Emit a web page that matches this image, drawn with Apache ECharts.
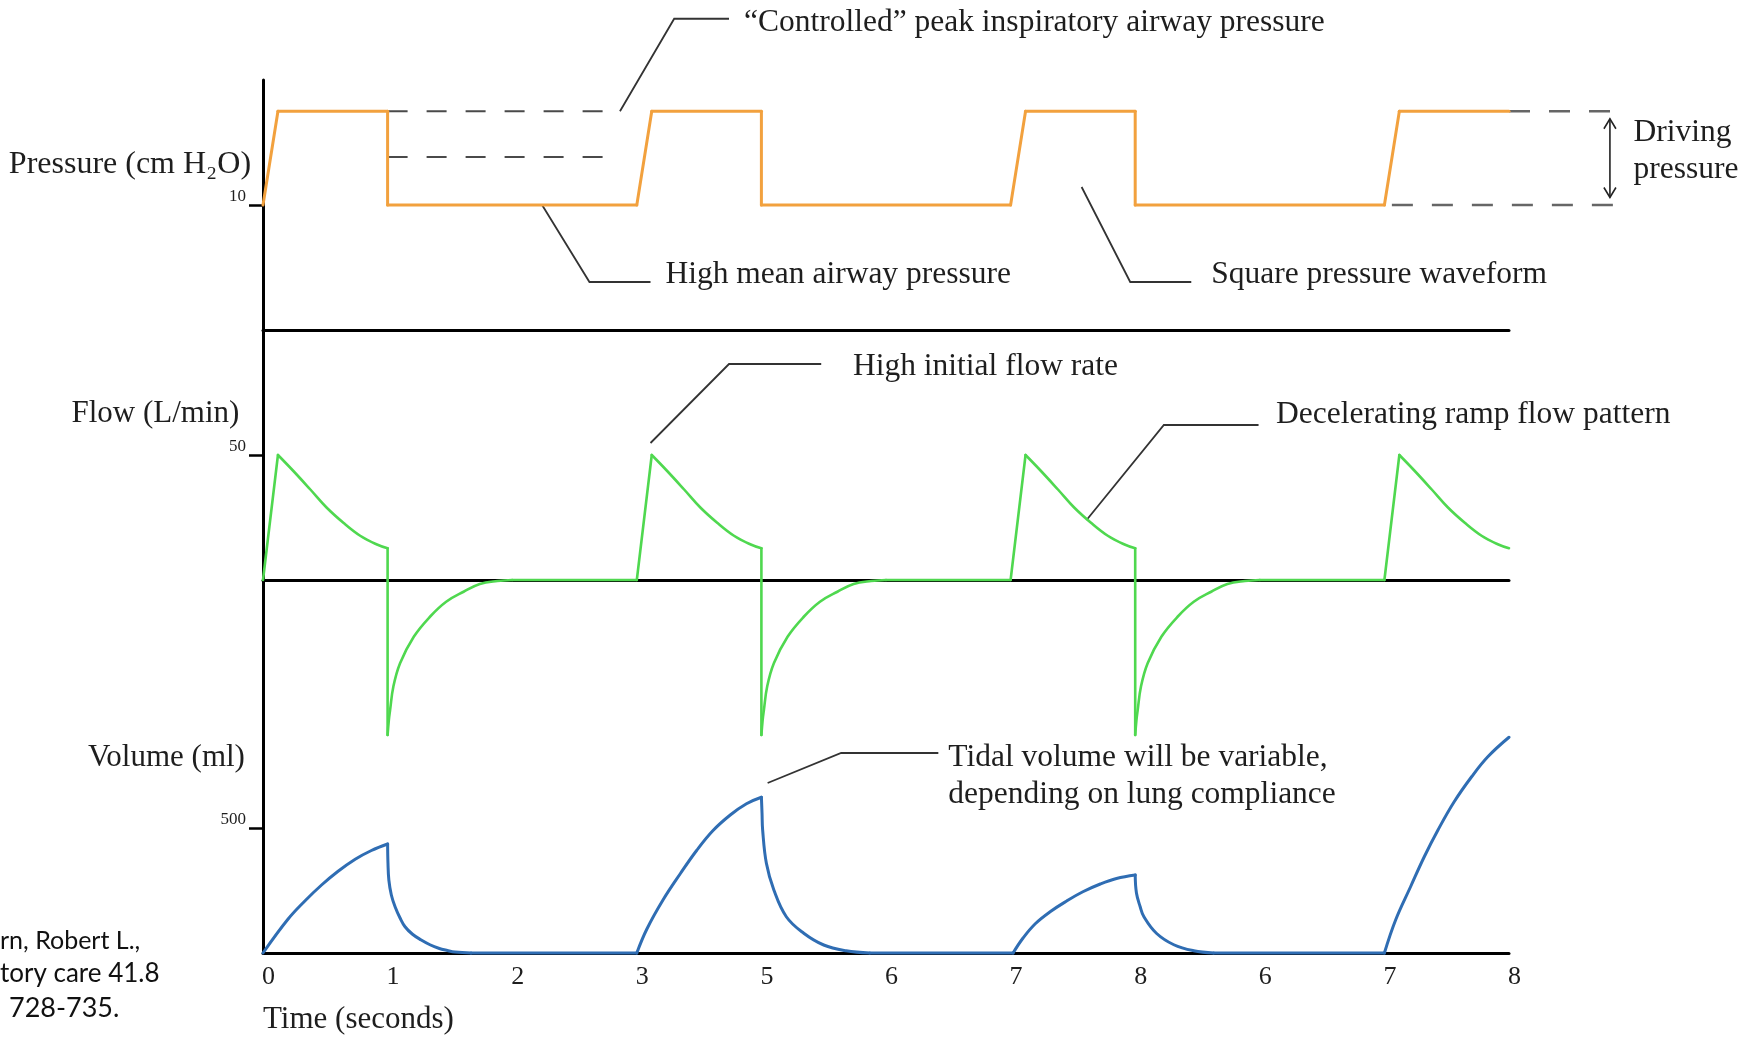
<!DOCTYPE html>
<html><head><meta charset="utf-8">
<script src="https://cdn.jsdelivr.net/npm/echarts@6/dist/echarts.min.js"></script>
<style>html,body{margin:0;padding:0;background:#fff}#c{width:1746px;height:1037px}</style>
</head><body><div id="c"></div>
<script>
// ---------- data ----------
const timeTickLabels = ['0', '1', '2', '3', '5', '6', '7', '8', '6', '7', '8'];
const pressureTicks = [10];
const flowTicks = [50];
const volumeTicks = [500];

const pressureData = [
  [0, 10], [0.12, 17.5], [1, 17.5], [1, 10], [3, 10], [3.12, 17.5], [4, 17.5], [4, 10],
  [6, 10], [6.12, 17.5], [7, 17.5], [7, 10], [9, 10], [9.12, 17.5], [10, 17.5]
];

const flowData = [
  [0, 0], [0.12, 50], [0.24, 43.8], [0.38, 36.2], [0.51, 29], [0.645, 22.9], [0.78, 17.7], [0.91, 14.3], [1, 12.7],
  [1, -62], [1.01, -56], [1.02, -52], [1.046, -42.7], [1.1, -33.3], [1.21, -22.7], [1.34, -14.7], [1.47, -8.7],
  [1.61, -4.7], [1.74, -1.6], [1.88, -0.4], [2, 0], [3, 0],
  [3.12, 50], [3.24, 43.8], [3.38, 36.2], [3.51, 29], [3.645, 22.9], [3.78, 17.7], [3.91, 14.3], [4, 12.7],
  [4, -62], [4.01, -56], [4.02, -52], [4.046, -42.7], [4.1, -33.3], [4.21, -22.7], [4.34, -14.7], [4.47, -8.7],
  [4.61, -4.7], [4.74, -1.6], [4.88, -0.4], [5, 0], [6, 0],
  [6.12, 50], [6.24, 43.8], [6.38, 36.2], [6.51, 29], [6.645, 22.9], [6.78, 17.7], [6.91, 14.3], [7, 12.7],
  [7, -62], [7.01, -56], [7.02, -52], [7.046, -42.7], [7.1, -33.3], [7.21, -22.7], [7.34, -14.7], [7.47, -8.7],
  [7.61, -4.7], [7.74, -1.6], [7.88, -0.4], [8, 0], [9, 0],
  [9.12, 50], [9.24, 43.8], [9.38, 36.2], [9.51, 29], [9.645, 22.9], [9.78, 17.7], [9.91, 14.3], [10, 12.7]
];

const volumeData = [
  [0, 0], [0.2, 135], [0.34, 210], [0.47, 272], [0.6, 326], [0.74, 375], [0.87, 410], [1, 436],
  [1.003, 360], [1.01, 292], [1.03, 232], [1.06, 185], [1.1, 140], [1.14, 105], [1.2, 75], [1.27, 52],
  [1.34, 33], [1.41, 19], [1.48, 10], [1.54, 4], [1.67, 0], [3, 0],
  [3.08, 95], [3.21, 212], [3.35, 318], [3.48, 410], [3.61, 489], [3.75, 552], [3.88, 597], [4, 623],
  [4.005, 560], [4.01, 492], [4.04, 359], [4.1, 252], [4.2, 145], [4.34, 79], [4.5, 32], [4.68, 9], [4.87, 0], [6.02, 0],
  [6.1, 60], [6.2, 118], [6.32, 166], [6.45, 208], [6.58, 245], [6.72, 276], [6.85, 298], [7, 312],
  [7.01, 240], [7.04, 185], [7.07, 145], [7.17, 79], [7.31, 33], [7.47, 9], [7.63, 0], [9, 0],
  [9.09, 132], [9.21, 265], [9.32, 385], [9.43, 492], [9.56, 605], [9.7, 705], [9.83, 785], [10, 863]
];

// ---------- helpers ----------
// split a polyline at its corners (vertical jumps, peaks, start/end of flat parts)
// so each smooth piece can be drawn with spline smoothing while corners stay sharp
function splitAtCorners(data) {
  const sgn = (a, b) => {
    const dx = b[0] - a[0], dy = b[1] - a[1];
    if (dx === 0) return 'v';
    return dy > 0 ? 1 : (dy < 0 ? -1 : 0);
  };
  const pieces = [];
  let cur = [data[0]];
  for (let i = 1; i < data.length; i++) {
    cur.push(data[i]);
    if (i < data.length - 1) {
      const s0 = sgn(data[i - 1], data[i]), s1 = sgn(data[i], data[i + 1]);
      if (s0 !== s1 || s0 === 'v') { pieces.push(cur); cur = [data[i]]; }
    }
  }
  pieces.push(cur);
  return pieces;
}

// ---------- chart ----------
const SERIF = '"Liberation Serif", "DejaVu Serif", serif';
const TXT = '#1e1e1e';
const chart = echarts.init(document.getElementById('c'), null, { renderer: 'canvas' });
const axisLine = { show: true, onZero: true, lineStyle: { color: '#000', width: 3 } };
const grids = [
  { left: 263, right: 237, top: 80, height: 250 },
  { left: 263, right: 237, top: 330, height: 425 },
  { left: 263, right: 237, top: 728, height: 225 }
];
function yAx(gi, min, max, ticks) {
  return {
    type: 'value', gridIndex: gi, min: min, max: max,
    axisLine: axisLine,
    splitLine: { show: false },
    axisTick: { show: true, customValues: ticks, length: 14, lineStyle: { color: '#000', width: 2.5 } },
    axisLabel: { show: true, customValues: ticks, fontSize: 17, fontFamily: SERIF, color: TXT, margin: 17, verticalAlign: 'bottom' }
  };
}
function xAx(gi) {
  return {
    type: 'value', gridIndex: gi, min: 0, max: 10, interval: 1,
    axisLine: axisLine, axisTick: { show: false }, splitLine: { show: false },
    axisLabel: {
      show: gi === 2, fontSize: 26, fontFamily: SERIF, color: TXT, margin: 11, padding: [0, 0, 0, 11],
      formatter: v => timeTickLabels[Math.round(v)]
    }
  };
}
function lineSeries(name, gi, data, color, width) {
  return splitAtCorners(data).map(piece => ({
    type: 'line', name: name, xAxisIndex: gi, yAxisIndex: gi, data: piece, showSymbol: false,
    smooth: piece.length > 2 ? 0.4 : false, lineStyle: { color: color, width: width, cap: 'round', join: 'round' }, clip: false
  }));
}
const option = {
  animation: false,
  backgroundColor: '#fff',
  grid: grids,
  xAxis: [xAx(0), xAx(1), xAx(2)],
  yAxis: [yAx(0, 0, 20, pressureTicks), yAx(1, -70, 100, flowTicks), yAx(2, 0, 900, volumeTicks)],
  series: [].concat(
    lineSeries('Pressure', 0, pressureData, '#F2A13E', 3),
    lineSeries('Flow', 1, flowData, '#4FD84F', 2.6),
    lineSeries('Volume', 2, volumeData, '#2F6DB3', 3)
  )
};
chart.setOption(option);

// ---------- annotations (anchored in data coordinates) ----------
const P = (g, pt) => chart.convertToPixel({ gridIndex: g }, pt);
const els = [];
const ANN = 31.5;
function dash(g, a, b, color, w, d) {
  const p1 = P(g, a), p2 = P(g, b);
  els.push({ type: 'line', silent: true, shape: { x1: p1[0], y1: p1[1], x2: p2[0], y2: p2[1] },
    style: { stroke: color, lineWidth: w, lineDash: d } });
}
function leader(g, pts) {
  els.push({ type: 'polyline', silent: true, shape: { points: pts.map(p => P(g, p)) },
    style: { stroke: '#333', lineWidth: 1.8, fill: null } });
}
function text(g, pt, str, align, size) {
  const p = P(g, pt);
  els.push({ type: 'text', silent: true, style: { x: p[0], y: p[1], text: str, align: align || 'left', verticalAlign: 'middle',
    fontSize: size || ANN, fontFamily: SERIF, fill: TXT } });
}
// pressure panel
dash(0, [1, 17.5], [2.865, 17.5], '#4a4a4a', 2, [20, 19]);
dash(0, [1, 13.84], [2.85, 13.84], '#4a4a4a', 2, [20, 19]);
dash(0, [10, 17.5], [10.83, 17.5], '#666', 2.5, [21, 19]);
dash(0, [9.06, 10], [10.91, 10], '#666', 2.5, [21, 19]);
leader(0, [[2.865, 17.5], [3.30, 24.9], [3.74, 24.9]]);
text(0, [3.86, 24.56], '\u201CControlled\u201D peak inspiratory airway pressure');
leader(0, [[2.24, 10], [2.62, 3.84], [3.11, 3.84]]);
text(0, [3.23, 4.4], 'High mean airway pressure');
leader(0, [[6.57, 11.44], [6.96, 3.84], [7.45, 3.84]]);
text(0, [7.61, 4.4], 'Square pressure waveform');
// driving pressure arrow
(function () {
  const a = P(0, [10.81, 16.9]), b = P(0, [10.81, 10.6]);
  const st = { stroke: '#222', lineWidth: 1.6, fill: null };
  els.push({ type: 'line', silent: true, shape: { x1: a[0], y1: a[1], x2: b[0], y2: b[1] }, style: st });
  els.push({ type: 'polyline', silent: true, shape: { points: [[a[0] - 6, a[1] + 10], [a[0], a[1]], [a[0] + 6, a[1] + 10]] }, style: st });
  els.push({ type: 'polyline', silent: true, shape: { points: [[b[0] - 6, b[1] - 10], [b[0], b[1]], [b[0] + 6, b[1] - 10]] }, style: st });
})();
text(0, [11.0, 15.76], 'Driving');
text(0, [11.0, 12.8], 'pressure');
text(0, [-0.096, 13.2], 'Pressure (cm H\u2082O)', 'right', 32);
// flow panel
leader(1, [[3.11, 54.8], [3.74, 86.4], [4.48, 86.4]]);
text(1, [4.735, 85.2], 'High initial flow rate');
leader(1, [[6.61, 24], [7.23, 62], [7.99, 62]]);
text(1, [8.13, 66], 'Decelerating ramp flow pattern');
text(1, [-0.19, 66.4], 'Flow (L/min)', 'right', 31);
// volume panel
leader(2, [[4.05, 680], [4.64, 800], [5.42, 800]]);
text(2, [5.50, 780], 'Tidal volume will be variable,', 'left', 31.5);
text(2, [5.50, 632], 'depending on lung compliance', 'left', 31.5);
text(2, [-0.145, 780], 'Volume (ml)', 'right', 31);
text(2, [0.0, -268], 'Time (seconds)', 'left', 31);
// citation (cut off at the left edge in the reference)
const SANS = 'Lato, "Liberation Sans", sans-serif';
els.push({ type: 'text', silent: true, style: { x: 0, y: 941, text: 'rn, Robert L.,', verticalAlign: 'middle', fontSize: 25, fontFamily: SANS, fill: '#111' } });
els.push({ type: 'text', silent: true, style: { x: 0, y: 974, text: 'tory care 41.8', verticalAlign: 'middle', fontSize: 26, fontFamily: SANS, fill: '#111' } });
els.push({ type: 'text', silent: true, style: { x: 9, y: 1008, text: '728-735.', verticalAlign: 'middle', fontSize: 27, fontFamily: SANS, fill: '#111' } });

chart.setOption({ graphic: { elements: els } });
</script>
</body></html>
